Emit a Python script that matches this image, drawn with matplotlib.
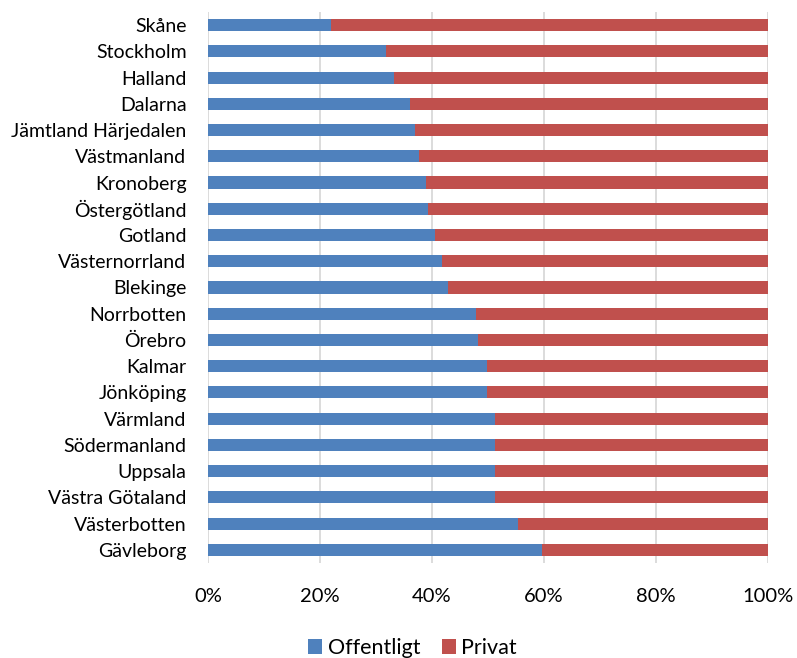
import numpy as np
import matplotlib
matplotlib.use("Agg")
import matplotlib.pyplot as plt

# regions top to bottom, share of public (Offentligt) in percent
regions = ["Skåne", "Stockholm", "Halland", "Dalarna", "Jämtland Härjedalen",
           "Västmanland", "Kronoberg", "Östergötland", "Gotland", "Västernorrland",
           "Blekinge", "Norrbotten", "Örebro", "Kalmar", "Jönköping", "Värmland",
           "Södermanland", "Uppsala", "Västra Götaland", "Västerbotten", "Gävleborg"]
offentligt = [21.9, 31.7, 33.3, 36.0, 37.0, 37.7, 38.9, 39.2, 40.5, 41.8,
              42.9, 47.8, 48.3, 49.9, 49.9, 51.2, 51.2, 51.2, 51.2, 55.4, 59.6]
privat = [100 - v for v in offentligt]
xticks = [0, 20, 40, 60, 80, 100]

plt.rcParams['font.family'] = ['Lato', 'DejaVu Sans']

fig = plt.figure(figsize=(7.97, 6.58), dpi=100)
ax = fig.add_axes([0.261, 0.1444, 0.7026, 0.8374])

y = np.arange(len(regions))
ax.barh(y, offentligt, height=0.46, color='#4F81BD', label='Offentligt', zorder=3)
ax.barh(y, privat, left=offentligt, height=0.46, color='#C0504D', label='Privat', zorder=3)

ax.set_ylim(len(regions) - 0.5, -0.5)
ax.set_xlim(0, 100)
ax.set_yticks(y)
ax.set_yticklabels(regions, fontsize=14)
ax.set_xticks(xticks)
ax.set_xticklabels(['{}%'.format(t) for t in xticks], fontsize=14.5)
ax.tick_params(axis='y', length=0, pad=15.5)
ax.tick_params(axis='x', length=0, pad=18)
ax.grid(axis='x', color='#D9D9D9', linewidth=1.3, zorder=0)
ax.set_axisbelow(True)
for s in ax.spines.values():
    s.set_visible(False)

fig.legend(loc='center', bbox_to_anchor=(0.5176, 0.015), ncol=2, frameon=False,
           fontsize=15.5, handlelength=0.65, handleheight=0.65, handletextpad=0.25,
           columnspacing=1.0)

plt.savefig('out.png', dpi=100)
